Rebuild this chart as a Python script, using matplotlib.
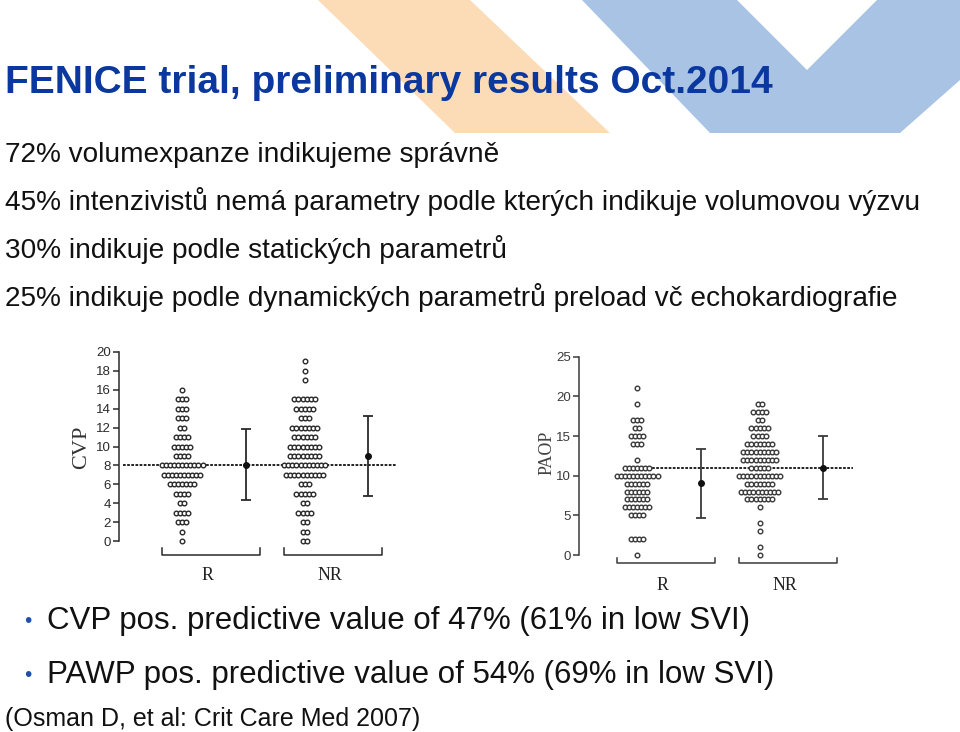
import numpy as np
import matplotlib
matplotlib.use("Agg")
import matplotlib.pyplot as plt
from matplotlib.patches import Polygon

W, H = 960, 732
SANS = "Liberation Sans"
SERIF = "Liberation Serif"

title = "FENICE trial, preliminary results Oct.2014"
body_lines = [
    "72% volumexpanze indikujeme správně",
    "45% intenzivistů nemá parametry podle kterých indikuje volumovou výzvu",
    "30% indikuje podle statických parametrů",
    "25% indikuje podle dynamických parametrů preload vč echokardiografie",
]
bullets = [
    "CVP pos. predictive value of 47% (61% in low SVI)",
    "PAWP pos. predictive value of 54% (69% in low SVI)",
]
citation = "(Osman D, et al: Crit Care Med 2007)"

groups = ["R", "NR"]

# CVP: number of patients at each value 0..20
cvp_levels = list(range(21))
cvp_r = [1, 1, 3, 4, 2, 4, 7, 10, 11, 4, 5, 4, 2, 3, 3, 3, 1, 0, 0, 0, 0]
cvp_nr = [2, 2, 2, 4, 2, 5, 3, 10, 11, 8, 8, 6, 7, 3, 5, 6, 0, 1, 1, 1, 0]
cvp_mean = [8.0, 9.0]
cvp_low = [4.3, 4.8]
cvp_high = [11.8, 13.2]
cvp_cut = 8
cvp_ticks = list(range(0, 21, 2))

# PAOP: number of patients at each value 0..25
paop_levels = list(range(26))
paop_r = [1, 0, 4, 0, 0, 4, 7, 6, 6, 6, 11, 7, 1, 0, 3, 4, 2, 3, 0, 1, 0, 1, 0, 0, 0, 0]
paop_nr = [1, 1, 0, 1, 1, 0, 1, 7, 10, 7, 11, 5, 9, 9, 7, 4, 5, 2, 4, 2, 0, 0, 0, 0, 0, 0]
paop_mean = [9.1, 11.0]
paop_low = [4.7, 7.0]
paop_high = [13.4, 15.0]
paop_cut = 11
paop_ticks = list(range(0, 26, 5))

fig = plt.figure(figsize=(W / 100, H / 100), dpi=100)
bg = fig.add_axes([0, 0, 1, 1])
bg.set_xlim(0, W)
bg.set_ylim(H, 0)
bg.axis("off")

# slide decoration
bg.add_patch(Polygon([(318, 0), (470, 0), (610, 133), (455, 133)],
                     closed=True, fc="#fcdcb6", ec="none", zorder=0))
bg.add_patch(Polygon([(582, 0), (737, 0), (807, 70), (877, 0), (960, 0),
                      (960, 80), (900, 133), (710, 133)],
                     closed=True, fc="#a9c3e4", ec="none", zorder=0))

bg.text(5, 93, title, fontsize=28, fontweight="bold", color="#0a389e",
        family=SANS, va="baseline", zorder=2)
for i, line in enumerate(body_lines):
    bg.text(5, 162 + 48 * i, line, fontsize=20.2, color="#111111",
            family=SANS, va="baseline")
for i, line in enumerate(bullets):
    y = 629 + 54 * i
    bg.text(24, y - 2, "\u2022", fontsize=15, color="#1f4fa8", family=SANS,
            va="baseline")
    bg.text(47, y, line, fontsize=22.5, color="#111111", family=SANS,
            va="baseline")
bg.text(5, 726, citation, fontsize=18, color="#111111", family=SANS,
        va="baseline")


def panel(left, top, right, bottom, y0_px, unit_px, x0_px, step_px):
    ax = fig.add_axes([left / W, 1 - bottom / H, (right - left) / W,
                       (bottom - top) / H])
    ax.set_xlim((left - x0_px) / step_px, (right - x0_px) / step_px)
    ax.set_ylim((y0_px - bottom) / unit_px, (y0_px - top) / unit_px)
    ax.patch.set_alpha(0)
    for s in ["top", "right", "bottom"]:
        ax.spines[s].set_visible(False)
    ax.set_xticks([])
    return ax


def draw(ax, levels, counts_list, means, lows, highs, cut, ticks,
         unit_px, col, tick_fs, cut_x, br_px, lab_px, lab_fs):
    dx = 4.1 / 61.3
    for g, counts in enumerate(counts_list):
        pos = 2 * g
        xs, ys = [], []
        for v, n in zip(levels, counts):
            off = (np.arange(n) - (n - 1) / 2) * dx
            xs.extend(pos + off)
            ys.extend([v] * n)
        ax.scatter(xs, ys, s=11, facecolor="white", edgecolor=col,
                   linewidths=1.0, zorder=3, clip_on=False)
        m = means[g]
        ax.errorbar([pos + 1.04], [m], yerr=[[m - lows[g]], [highs[g] - m]],
                    fmt="o", ms=4, color="#111111", ecolor=col,
                    elinewidth=1.3, capsize=3.5, capthick=1.3, zorder=4)
        # bracket under the group
        c = pos + 0.47
        yb = -br_px[0] / unit_px
        yt = -br_px[1] / unit_px
        ax.plot([c - 0.8, c - 0.8, c + 0.8, c + 0.8], [yt, yb, yb, yt],
                color=col, lw=1.1, clip_on=False)
        ax.text(c - 0.05, -lab_px / unit_px, groups[g], family=SERIF,
                fontsize=lab_fs, color="#222222", ha="center", va="center")
    ax.plot(cut_x, [cut, cut], color="#111111", lw=1.3,
            linestyle=(0, (1.5, 0.8)), zorder=2)
    ax.set_yticks(ticks)
    ax.spines["left"].set_bounds(ticks[0], ticks[-1])
    ax.spines["left"].set_color(col)
    ax.spines["left"].set_linewidth(1.1)
    ax.tick_params(axis="y", direction="out", length=4, width=1.1,
                   color=col, labelcolor=col, labelsize=tick_fs, pad=2)
    for t in ax.get_yticklabels():
        t.set_family(SANS)


ax1 = panel(119, 340, 410, 600, 541, 9.45, 182, 61.3)
draw(ax1, cvp_levels, [cvp_r, cvp_nr], cvp_mean, cvp_low, cvp_high,
     cvp_cut, cvp_ticks, 9.45, "#2a2a2a", 9.5, [-0.96, 3.51],
     (14, 7), 34, 13)
bg.text(82, 447, "CVP", rotation=90, family=SERIF, fontsize=16,
        color="#333333", ha="center", va="center")

ax2 = panel(579, 340, 870, 600, 555, 7.93, 637, 61.3)
draw(ax2, paop_levels, [paop_r, paop_nr], paop_mean, paop_low, paop_high,
     paop_cut, paop_ticks, 7.93, "#3a3a3a", 9.5, [-0.23, 3.52],
     (8, 3), 30, 13)
bg.text(547, 453, "PAOP", rotation=90, family=SERIF, fontsize=13,
        color="#444444", ha="center", va="center")

fig.savefig("out.png", dpi=100)
